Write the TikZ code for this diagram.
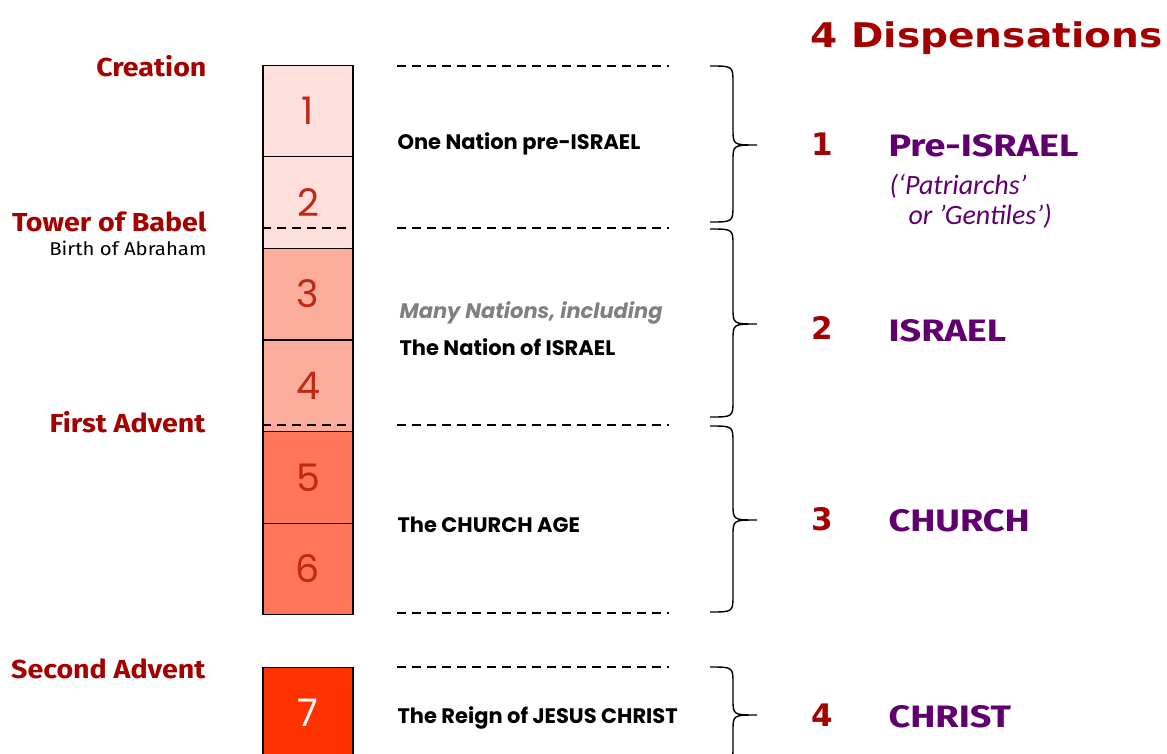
\documentclass[tikz,border=0pt]{standalone}
\usepackage{fontspec}
\setmainfont{DejaVu Sans}
\newfontfamily\gothicfont{Poppins}
\newfontfamily\comicfont[FakeStretch=1.1]{Fira Sans}
\newfontfamily\comicwide[FakeStretch=1.22]{Fira Sans}
\newfontfamily\calfont{Carlito}
\newfontfamily\titlefont[FakeStretch=1.15]{DejaVu Sans}
\definecolor{eraA}{RGB}{253,224,220}
\definecolor{eraB}{RGB}{252,172,154}
\definecolor{eraC}{RGB}{255,118,89}
\definecolor{eraD}{RGB}{255,51,0}
\definecolor{numred}{RGB}{190,40,20}
\definecolor{darkred}{RGB}{165,0,0}
\definecolor{dpurple}{RGB}{96,0,110}

\begin{document}
\begin{tikzpicture}[x=1pt,y=-1pt,
era/.style={rectangle,draw=black,line width=1.2pt,minimum width=90pt,minimum height=91.5pt,inner sep=0pt,
 font=\gothicfont\fontsize{38}{40}\selectfont,text=numred},
event/.style={anchor=base east,font=\comicfont\bfseries\fontsize{26}{30}\selectfont,text=darkred},
period/.style={anchor=base west,font=\gothicfont\bfseries\fontsize{21}{24}\selectfont},
dnum/.style={anchor=base,font=\bfseries\fontsize{31}{36}\selectfont,text=darkred},
dname/.style={anchor=base west,font=\comicwide\bfseries\fontsize{31}{36}\selectfont,text=dpurple},
dnote/.style={anchor=base west,font=\calfont\itshape\fontsize{28}{30}\selectfont,text=dpurple},
cut/.style={dashed,dash pattern=on 9pt off 6pt,line width=1.6pt},
bracket/.style={line width=1.4pt}]
\useasboundingbox (0,0) rectangle (1167,753);
% the seven eras
\node[era,fill=eraA] (e1) at (308,111) {1};
\node[era,fill=eraA] (e2) at (308,202.5) {2};
\node[era,fill=eraB] (e3) at (308,294) {3};
\node[era,fill=eraB] (e4) at (308,386) {4};
\node[era,fill=eraC] (e5) at (308,477.5) {5};
\node[era,fill=eraC] (e6) at (308,569) {6};
\node[era,fill=eraD,text=white] (e7) at (308,713) {7};
% events on the left
\node[event] (creation) at (210,76) {Creation};
\node[event] (babel) at (210,231) {Tower of Babel};
\node[event,font=\comicfont\fontsize{18.5}{20}\selectfont,text=black] (abraham) at (210,255) {Birth of Abraham};
\node[event] (advent1) at (209,432) {First Advent};
\node[event] (advent2) at (209,678) {Second Advent};
% periods in the middle
\node[period] (p1) at (394,149) {One Nation pre-ISRAEL};
\node[period,font=\gothicfont\bfseries\itshape\fontsize{21}{24}\selectfont,text=black!50] (p2a) at (396,318) {Many Nations, including};
\node[period] (p2b) at (396,355) {The Nation of ISRAEL};
\node[period] (p3) at (394,532) {The CHURCH AGE};
\node[period] (p4) at (394,723) {The Reign of JESUS CHRIST};
% dispensations on the right
\node[anchor=base west,font=\titlefont\bfseries\fontsize{34}{38}\selectfont,text=darkred] (title) at (807,47) {4 Dispensations};
\node[dnum] (n1) at (822,155) {1};
\node[dname] (d1) at (885,156) {Pre-ISRAEL};
\node[dnote] (d1a) at (886,194) {(‘Patriarchs’};
\node[dnote] (d1b) at (905,224) {or ’Gentiles’)};
\node[dnum] (n2) at (822,339) {2};
\node[dname] (d2) at (885,341) {ISRAEL};
\node[dnum] (n3) at (822,530) {3};
\node[dname] (d3) at (885,531) {CHURCH};
\node[dnum] (n4) at (822,726) {4};
\node[dname] (d4) at (885,727) {CHRIST};
% dividing lines
\coordinate (cutA) at (397,66);
\coordinate (cutB) at (397,228);
\coordinate (cutC) at (397,425);
\coordinate (cutD) at (397,613);
\coordinate (cutE) at (397,667);
\begin{scope}[cut]
 \foreach \c in {cutA,cutB,cutC,cutD,cutE}
  \draw (\c)--++(272,0);
 \draw (e2.west|-cutB)--(e2.east|-cutB);
 \draw (e4.west|-cutC)--(e4.east|-cutC);
\end{scope}
% braces: top / tip / bottom
\foreach \t/\m/\b in {66/145/222,229/324/417,426/520/612,667/715/763}
 \draw[bracket] (710,\t) .. controls (733,\t) .. (733,\t+17) -- (733,\m-16)
  .. controls (733,\m) .. (757,\m) .. controls (733,\m) .. (733,\m+16)
  -- (733,\b-17) .. controls (733,\b) .. (710,\b);
\end{tikzpicture}
\end{document}
